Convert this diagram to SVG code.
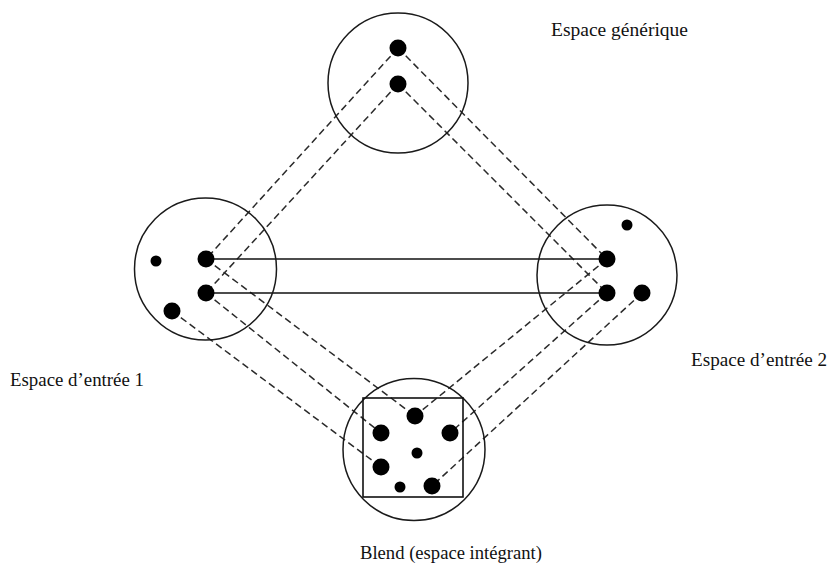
<svg xmlns="http://www.w3.org/2000/svg" width="829" height="564" viewBox="0 0 829 564">
  <style>
    .space { fill: none; stroke: #1a1a1a; stroke-width: 1.5; }
    .frame { fill: none; stroke: #111; stroke-width: 1.6; }
    .dot { fill: #000; }
    .link { stroke: #111; stroke-width: 1.5; fill: none; }
    .map { stroke: #2a2a2a; stroke-width: 1.5; fill: none; stroke-dasharray: 7 4; }
    .label { font-family: "Liberation Serif", "Times New Roman", serif; font-size: 18.5px; fill: #111; }
  </style>
  <rect width="829" height="564" fill="#fff"/>

  <!-- connectors: dashed projections and solid cross-space links -->
  <g id="connectors">
    <!-- generic space to input 1 -->
    <line class="map" x1="398" y1="48" x2="206" y2="259"/>
    <line class="map" x1="398" y1="84" x2="206" y2="293"/>
    <!-- generic space to input 2 -->
    <line class="map" x1="398" y1="48" x2="607" y2="259"/>
    <line class="map" x1="398" y1="84" x2="607" y2="293"/>
    <!-- input 1 to blend -->
    <line class="map" x1="206" y1="259" x2="415" y2="416"/>
    <line class="map" x1="206" y1="293" x2="381" y2="433"/>
    <line class="map" x1="172" y1="311" x2="381" y2="467"/>
    <!-- input 2 to blend -->
    <line class="map" x1="607" y1="259" x2="415" y2="416"/>
    <line class="map" x1="607" y1="293" x2="450" y2="433"/>
    <line class="map" x1="642" y1="293" x2="432" y2="486"/>
    <!-- cross-space mapping -->
    <line class="link" x1="206" y1="259" x2="607" y2="259"/>
    <line class="link" x1="206" y1="293" x2="607" y2="293"/>
  </g>

  <g id="generic-space">
    <circle class="space" cx="398" cy="83" r="70"/>
    <circle class="dot" cx="398" cy="48" r="8.5"/>
    <circle class="dot" cx="398" cy="84" r="8.5"/>
    <text class="label" x="551" y="36" textLength="137" lengthAdjust="spacingAndGlyphs">Espace générique</text>
  </g>

  <g id="input-space-1">
    <circle class="space" cx="205.5" cy="269" r="71"/>
    <circle class="dot" cx="206" cy="259" r="8.5"/>
    <circle class="dot" cx="206" cy="293" r="8.5"/>
    <circle class="dot" cx="156" cy="261" r="5.5"/>
    <circle class="dot" cx="172" cy="311" r="8.5"/>
    <text class="label" x="10" y="386" textLength="134" lengthAdjust="spacingAndGlyphs">Espace d’entrée 1</text>
  </g>

  <g id="input-space-2">
    <circle class="space" cx="607" cy="275" r="70"/>
    <circle class="dot" cx="607" cy="259" r="8.5"/>
    <circle class="dot" cx="607" cy="293" r="8.5"/>
    <circle class="dot" cx="642" cy="293" r="8.5"/>
    <circle class="dot" cx="627" cy="225" r="5.5"/>
    <text class="label" x="691" y="366" textLength="136" lengthAdjust="spacingAndGlyphs">Espace d’entrée 2</text>
  </g>

  <g id="blend-space">
    <circle class="space" cx="414" cy="449.5" r="71"/>
    <rect class="frame" x="363" y="398" width="100" height="99"/>
    <circle class="dot" cx="415" cy="416" r="8.5"/>
    <circle class="dot" cx="381" cy="433" r="8.5"/>
    <circle class="dot" cx="450" cy="433" r="8.5"/>
    <circle class="dot" cx="417" cy="453" r="5.5"/>
    <circle class="dot" cx="381" cy="467" r="8.5"/>
    <circle class="dot" cx="400" cy="487" r="5.5"/>
    <circle class="dot" cx="432" cy="486" r="8.5"/>
    <text class="label" x="360" y="559" textLength="182" lengthAdjust="spacingAndGlyphs">Blend (espace intégrant)</text>
  </g>
</svg>
